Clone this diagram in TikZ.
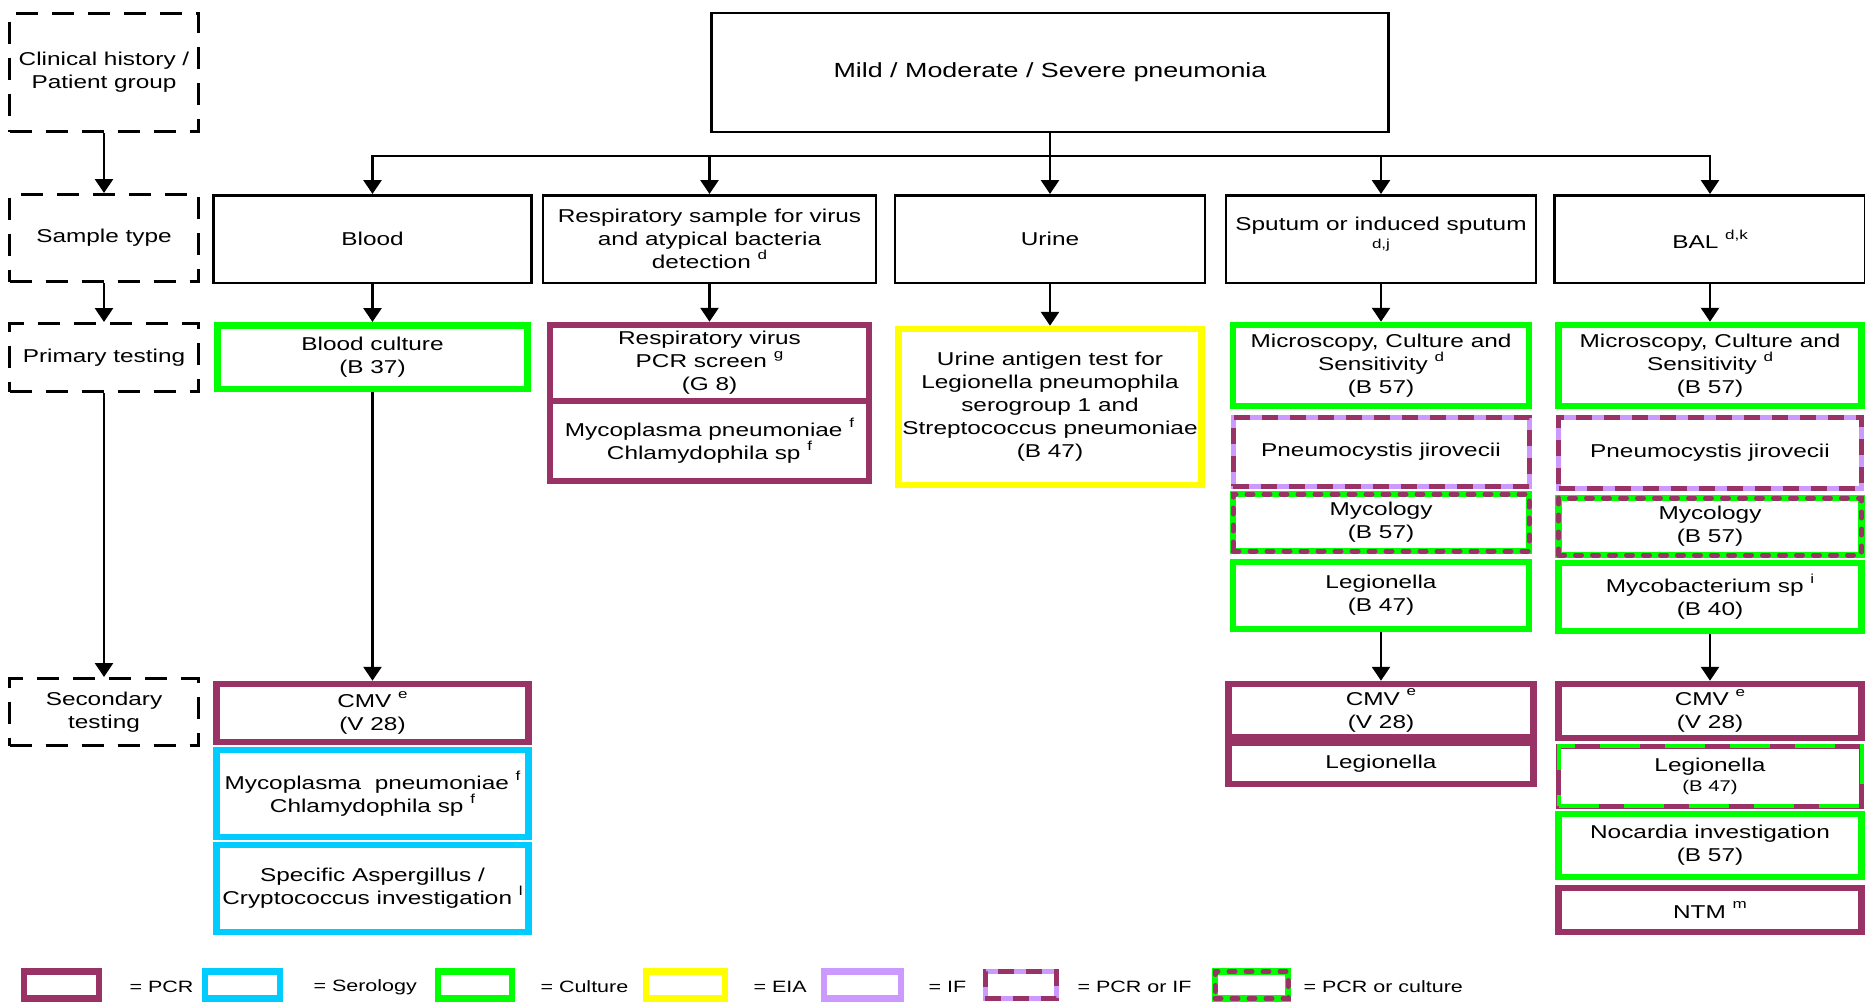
\documentclass[tikz,border=0pt]{standalone}
\usepackage{fontspec}
\setmainfont{Liberation Sans}[FakeStretch=1.31]
\usetikzlibrary{arrows.meta}

\definecolor{pcrpurple}{RGB}{153,51,102}
\definecolor{seroblue}{RGB}{0,204,255}
\definecolor{cultgreen}{RGB}{0,255,0}
\definecolor{eiayellow}{RGB}{255,255,0}
\definecolor{iflilac}{RGB}{204,153,255}

\newcommand{\supnote}[1]{\raisebox{0.5em}{\fontsize{13}{13}\selectfont #1}}

\tikzset{
  stagebox/.style={draw, line width=3pt, dash pattern=on 22pt off 14pt, align=center, inner sep=2pt, minimum width=189pt},
  samplebox/.style={draw, line width=2.5pt, align=center, inner sep=2pt},
  pcrbox/.style={draw=pcrpurple, line width=6.5pt, align=center, inner sep=2pt},
  serobox/.style={draw=seroblue, line width=6.5pt, align=center, inner sep=2pt},
  culturebox/.style={draw=cultgreen, line width=6.5pt, align=center, inner sep=2pt},
  eiabox/.style={draw=eiayellow, line width=6.5pt, align=center, inner sep=2pt},
  ifbox/.style={draw=iflilac, line width=6.5pt, align=center, inner sep=2pt},
  pcrifbox/.style={draw=iflilac, line width=5pt, align=center, inner sep=2pt,
    postaction={draw=pcrpurple, line width=5pt, dash pattern=on 16pt off 12pt}},
  pcrcultbox/.style={draw=cultgreen, line width=6.5pt, align=center, inner sep=2pt,
    postaction={draw=pcrpurple, line width=5pt, line cap=round, dash pattern=on 6pt off 11pt}},
  pcrcultlong/.style={draw=pcrpurple, line width=5pt, align=center, inner sep=2pt,
    postaction={draw=cultgreen, line width=4pt, dash pattern=on 40pt off 25pt}},
  flow/.style={line width=2.8pt, -{Triangle[width=18pt,length=14pt]}},
  keytext/.style={anchor=west, font=\fontsize{16.4}{18}\selectfont},
}

\begin{document}
\begin{tikzpicture}[x=1pt, y=-1pt, font=\fontsize{18.6}{23}\selectfont]
\useasboundingbox (0,0) rectangle (1865,1001);

% stages on the left
\node[stagebox, minimum height=118pt] (history) at (104,72.5) {Clinical history /\\Patient group};
\node[stagebox, minimum height=87pt] (sampletype) at (104,238) {Sample type};
\node[stagebox, minimum height=68pt] (primary) at (104,357.5) {Primary testing};
\node[stagebox, minimum height=67pt] (secondary) at (104,712) {Secondary\\testing};

\draw[flow] (history) -- (sampletype);
\draw[flow] (sampletype) -- (primary);
\draw[flow] (primary) -- (secondary);

% top
\node[samplebox, minimum width=677pt, minimum height=119pt, font=\fontsize{20.5}{24}\selectfont] (pneumonia) at (1050,72.5) {Mild / Moderate / Severe pneumonia};

% sample types
\node[samplebox, minimum width=318pt, minimum height=87.5pt] (blood) at (372.5,239) {Blood};
\node[samplebox, minimum width=333pt, minimum height=87.5pt] (resp) at (709.5,239) {Respiratory sample for virus\\and atypical bacteria\\detection \supnote{d}};
\node[samplebox, minimum width=310pt, minimum height=87.5pt] (urine) at (1050,239) {Urine};
\node[samplebox, minimum width=310pt, minimum height=87.5pt, text depth=12pt] (sputum) at (1381,239) {Sputum or induced sputum\\[-5pt]{\fontsize{13}{13}\selectfont d,j}};
\node[samplebox, minimum width=311pt, minimum height=87.5pt] (bal) at (1710,239) {BAL \supnote{d,k}};

\coordinate (bus) at (1050,156);
\draw[line width=2.8pt] (pneumonia) -- (bus);
\draw[flow] (bus) -| (blood);
\draw[flow] (bus) -| (resp);
\draw[flow] (bus) -| (urine);
\draw[flow] (bus) -| (sputum);
\draw[flow] (bus) -| (bal);

% primary testing
\node[culturebox, minimum width=310pt, minimum height=63.5pt] (bcult) at (372.5,357) {Blood culture\\(B 37)};
\node[pcrbox, minimum width=319pt, minimum height=76pt] (rvirus) at (709.5,363) {Respiratory virus\\PCR screen \supnote{g}\\(G 8)};
\node[pcrbox, minimum width=319pt, minimum height=80pt] (rmyco) at (709.5,441) {Mycoplasma pneumoniae \supnote{f}\\Chlamydophila sp \supnote{f}};
\node[eiabox, minimum width=303pt, minimum height=156pt] (uantigen) at (1050,407) {Urine antigen test for\\Legionella pneumophila\\serogroup 1 and\\Streptococcus pneumoniae\\(B 47)};

\node[culturebox, minimum width=296pt, minimum height=81pt] (spmcs) at (1381,365.5) {Microscopy, Culture and\\Sensitivity \supnote{d}\\(B 57)};
\node[pcrifbox, minimum width=296pt, minimum height=69pt] (sppneumo) at (1381,451.5) {Pneumocystis jirovecii};
\node[pcrcultbox, minimum width=296pt, minimum height=57pt] (spmyco) at (1381,522.5) {Mycology\\(B 57)};
\node[culturebox, minimum width=296pt, minimum height=67pt] (splegio) at (1381,595.5) {Legionella\\(B 47)};

\node[culturebox, minimum width=303pt, minimum height=81pt] (balmcs) at (1710,365.5) {Microscopy, Culture and\\Sensitivity \supnote{d}\\(B 57)};
\node[pcrifbox, minimum width=303pt, minimum height=71pt] (balpneumo) at (1710,452.5) {Pneumocystis jirovecii};
\node[pcrcultbox, minimum width=303pt, minimum height=57pt] (balmyco) at (1710,526.5) {Mycology\\(B 57)};
\node[culturebox, minimum width=303pt, minimum height=68pt] (balmycob) at (1710,597) {Mycobacterium sp \supnote{i}\\(B 40)};

\draw[flow] (blood) -- (bcult);
\draw[flow] (resp) -- (rvirus);
\draw[flow] (urine) -- (uantigen);
\draw[flow] (sputum) -- (spmcs);
\draw[flow] (bal) -- (balmcs);

% secondary testing
\node[pcrbox, minimum width=312pt, minimum height=58pt] (bcmv) at (372.5,713) {CMV \supnote{e}\\(V 28)};
\node[serobox, minimum width=312pt, minimum height=87pt] (bsero) at (372.5,793.5) {Mycoplasma\ \ pneumoniae \supnote{f}\\Chlamydophila sp \supnote{f}};
\node[serobox, minimum width=312pt, minimum height=87pt] (bfungi) at (372.5,888.5) {Specific Aspergillus /\\Cryptococcus investigation \supnote{l}};

\node[pcrbox, minimum width=305pt, minimum height=53pt] (spcmv) at (1381,710.5) {CMV \supnote{e}\\(V 28)};
\node[pcrbox, minimum width=305pt, minimum height=41pt] (splegiopcr) at (1381,763.5) {Legionella};

\node[pcrbox, minimum width=303pt, minimum height=54pt] (balcmv) at (1710,711) {CMV \supnote{e}\\(V 28)};
\node[pcrcultlong, minimum width=303pt, minimum height=60pt] (ballegio) at (1710,776) {Legionella\\[-3pt]{\fontsize{15.5}{18}\selectfont (B 47)}};
\node[culturebox, minimum width=303pt, minimum height=63pt] (balnocard) at (1710,845.5) {Nocardia investigation\\(B 57)};
\node[pcrbox, minimum width=303pt, minimum height=44pt] (balntm) at (1710,910) {NTM \supnote{m}};

\draw[flow] (bcult) -- (bcmv);
\draw[flow] (splegio) -- (spcmv);
\draw[flow] (balmycob) -- (balcmv);

% legend
\node[pcrbox, minimum width=75pt, minimum height=27pt] (keypcr) at (61.5,985) {};
\node[keytext] (keypcrtxt) at (126,987) {= PCR};
\node[serobox, minimum width=75pt, minimum height=27pt] (keysero) at (242.5,985) {};
\node[keytext] (keyserotxt) at (310,987) {= Serology};
\node[culturebox, minimum width=74pt, minimum height=27pt] (keycult) at (475,985) {};
\node[keytext] (keyculttxt) at (537,987) {= Culture};
\node[eiabox, minimum width=79pt, minimum height=27pt] (keyeia) at (685.5,985) {};
\node[keytext] (keyeiatxt) at (750,987) {= EIA};
\node[ifbox, minimum width=77pt, minimum height=27pt] (keyif) at (862.5,985) {};
\node[keytext] (keyiftxt) at (925,987) {= IF};
\node[pcrifbox, minimum width=71pt, minimum height=27pt] (keypcrif) at (1020.5,985) {};
\node[keytext] (keypcriftxt) at (1074,987) {= PCR or IF};
\node[pcrcultbox, minimum width=73pt, minimum height=27pt] (keypcrcult) at (1251.5,985) {};
\node[keytext] (keypcrculttxt) at (1300,987) {= PCR or culture};
\end{tikzpicture}
\end{document}
